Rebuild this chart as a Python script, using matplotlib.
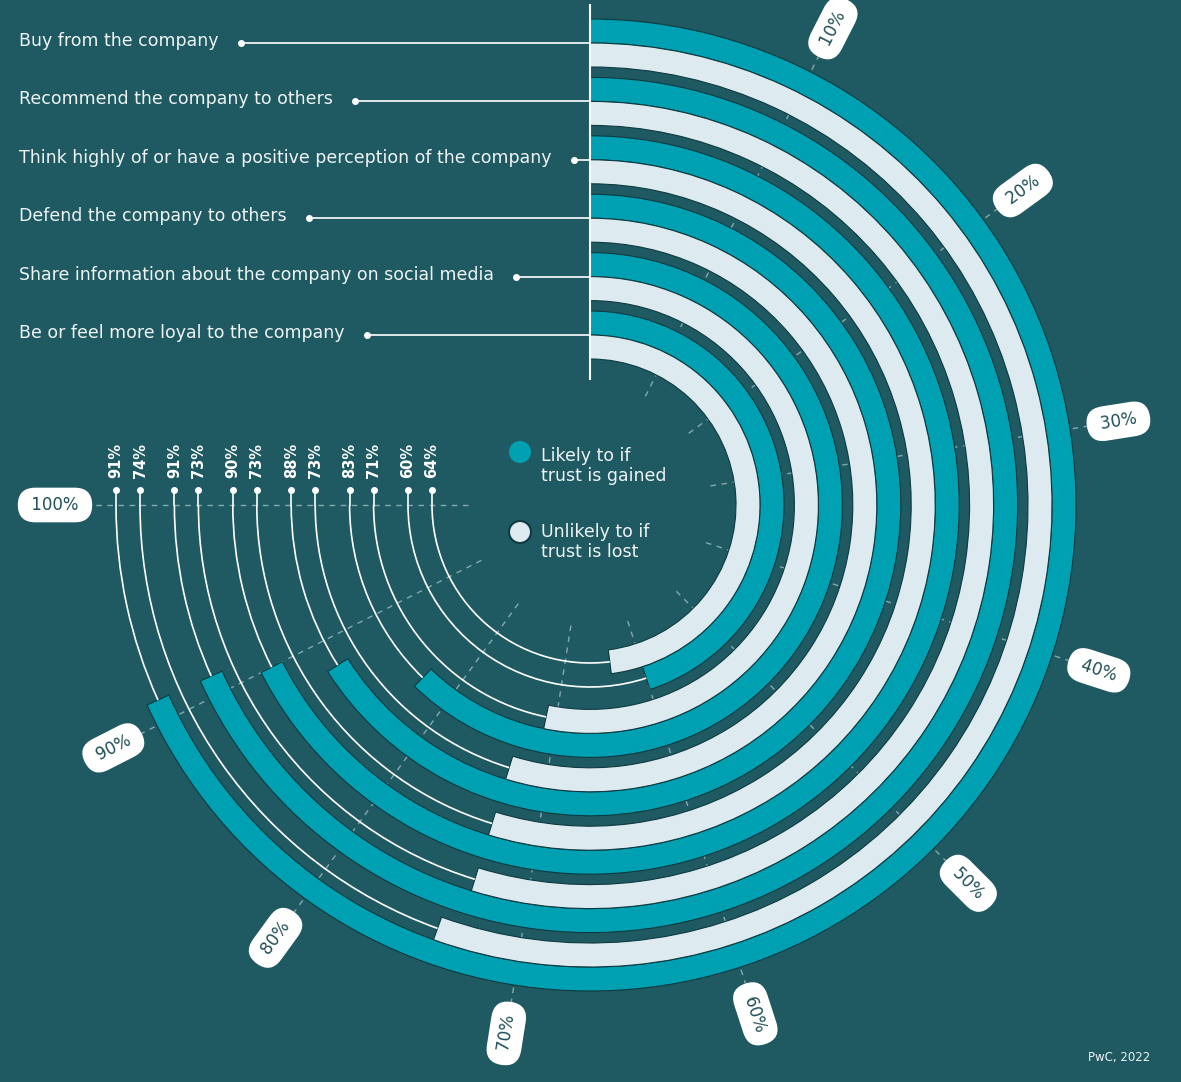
import numpy as np
import matplotlib.pyplot as plt
from matplotlib.patches import Wedge, Arc, Circle

# данные
categories = [
    "Buy from the company",
    "Recommend the company to others",
    "Think highly of or have a positive perception of the company",
    "Defend the company to others",
    "Share information about the company on social media",
    "Be or feel more loyal to the company",
]
gained = [91, 91, 90, 88, 83, 60]   # Likely to if trust is gained
lost = [74, 73, 73, 73, 71, 64]     # Unlikely to if trust is lost
ticks = [10, 20, 30, 40, 50, 60, 70, 80, 90, 100]
tick_labels = ["10%", "20%", "30%", "40%", "50%", "60%", "70%", "80%", "90%", "100%"]

BG = "#1F5A62"
TEAL = "#00A0B3"
LIGHT = "#DDEBF0"
EDGE = "#0D3A40"
TXT = "#EEF3F4"
GRID = "#86A9AE"

W, H = 1181, 1082
fig = plt.figure(figsize=(W / 100, H / 100), dpi=100, facecolor=BG)
ax = fig.add_axes([0, 0, 1, 1])
ax.set_xlim(0, W)
ax.set_ylim(0, H)
ax.axis("off")

cx, cy = 590, H - 505
R0 = 486      # внешний радиус первого кольца
band = 24     # толщина полосы
step = 58.4   # шаг между категориями
FULL = 270    # 100% = 270 градусов


def ang(p):
    return p / 100 * FULL


def pt(a, r):
    t = np.radians(a)
    return cx + r * np.sin(t), cy + r * np.cos(t)


# пунктирная сетка
for t in ticks:
    x0, y0 = pt(ang(t), 122)
    x1, y1 = pt(ang(t), 503)
    ax.plot([x0, x1], [y0, y1], color=GRID, lw=1, dashes=(4, 4), zorder=1)

renderer = fig.canvas.get_renderer()

for i, (cat, g, l) in enumerate(zip(categories, gained, lost)):
    r_out = R0 - i * step
    for j, (v, col) in enumerate([(g, TEAL), (l, LIGHT)]):
        ro = r_out - j * band
        ax.add_patch(Wedge((cx, cy), ro, 90 - ang(v), 90, width=band,
                           facecolor=col, edgecolor=EDGE, lw=0.8, zorder=2))
        rm = ro - band / 2
        ax.add_patch(Arc((cx, cy), 2 * rm, 2 * rm, theta1=-180, theta2=90 - ang(v),
                         color="white", lw=1.2, zorder=2))
        ax.plot([cx - rm, cx - rm], [cy, cy + 15], color="white", lw=1.2, zorder=2)
        ax.plot(cx - rm, cy + 15, "o", color="white", ms=4, zorder=3)
        ax.text(cx - rm, cy + 27, f"{v}%", rotation=90, ha="center", va="bottom",
                color="white", fontsize=10.5, fontweight="bold")

    # подписи категорий
    yl = cy + r_out - band
    tx = ax.text(19, yl + 2, cat, ha="left", va="center", color=TXT, fontsize=12.5)
    bb = tx.get_window_extent(renderer)
    xd = bb.x1 + 22
    ax.plot([xd, cx], [yl, yl], color="white", lw=1.2, zorder=3)
    ax.plot(xd, yl, "o", color="white", ms=4, zorder=3)

# вертикальная линия
ax.plot([cx, cx], [H - 5, H - 379], color="white", lw=1.5, zorder=4)

# подписи шкалы в "таблетках"
for t, lab in zip(ticks, tick_labels):
    a = ang(t)
    x, y = pt(a, 535)
    rot = 90 - a
    if rot < -90:
        rot += 180
    ax.text(x, y, " " + lab + " ", rotation=rot, rotation_mode="anchor",
            ha="center", va="center", color="#1F4F57", fontsize=12, zorder=5,
            bbox=dict(boxstyle="round,pad=0.5,rounding_size=1.05", fc="white", ec="none"))

# легенда
ax.add_patch(Circle((520, H - 452), 11, facecolor=TEAL, edgecolor="none", zorder=3))
ax.add_patch(Circle((520, H - 532), 11, facecolor=LIGHT, edgecolor=EDGE, lw=1.5, zorder=3))
ax.text(541, H - 466, "Likely to if\ntrust is gained", ha="left", va="center",
        color=TXT, fontsize=12.5, linespacing=1.15)
ax.text(541, H - 542, "Unlikely to if\ntrust is lost", ha="left", va="center",
        color=TXT, fontsize=12.5, linespacing=1.15)

ax.text(1150, H - 1057, "PwC, 2022", ha="right", va="center", color=TXT, fontsize=8.5)

fig.savefig("out.png", dpi=100, facecolor=BG)
